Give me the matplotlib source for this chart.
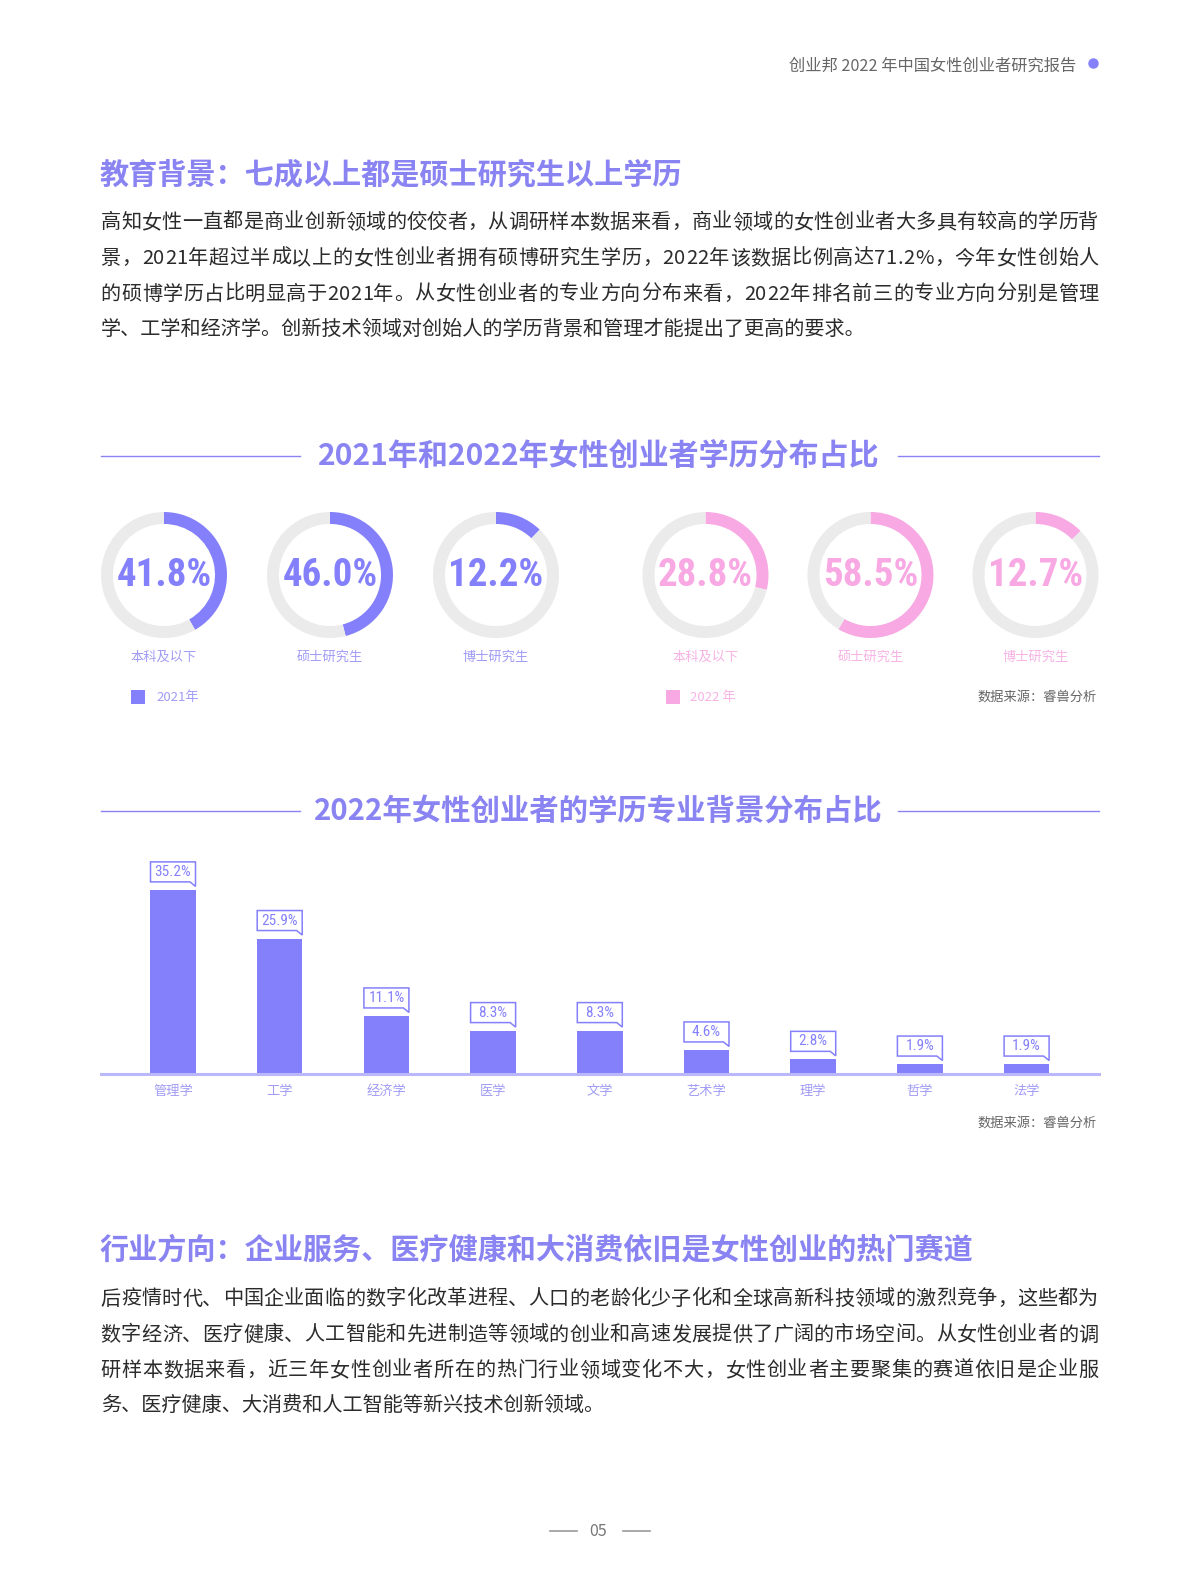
import matplotlib
matplotlib.use('Agg')
import matplotlib.pyplot as plt
import matplotlib.transforms as mtransforms
from matplotlib.patches import Polygon, Rectangle
from matplotlib.font_manager import FontProperties, fontManager

# ---------------- data ----------------
edu_levels = ['本科及以下', '硕士研究生', '博士研究生']
edu_2021 = [41.8, 46.0, 12.2]
edu_2022 = [28.8, 58.5, 12.7]
year_labels = ['2021年', '2022 年']

majors = ['管理学', '工学', '经济学', '医学', '文学', '艺术学', '理学', '哲学', '法学']
major_share = [35.2, 25.9, 11.1, 8.3, 8.3, 4.6, 2.8, 1.9, 1.9]

header_text = '创业邦 2022 年中国女性创业者研究报告'
heading1 = '教育背景：七成以上都是硕士研究生以上学历'
para1 = ['高知女性一直都是商业创新领域的佼佼者，从调研样本数据来看，商业领域的女性创业者大多具有较高的学历背',
         '景，2021年超过半成以上的女性创业者拥有硕博研究生学历，2022年该数据比例高达71.2%，今年女性创始人',
         '的硕博学历占比明显高于2021年。从女性创业者的专业方向分布来看，2022年排名前三的专业方向分别是管理',
         '学、工学和经济学。创新技术领域对创始人的学历背景和管理才能提出了更高的要求。']
title1 = '2021年和2022年女性创业者学历分布占比'
title2 = '2022年女性创业者的学历专业背景分布占比'
source_text = '数据来源：睿兽分析'
heading2 = '行业方向：企业服务、医疗健康和大消费依旧是女性创业的热门赛道'
para2 = ['后疫情时代、中国企业面临的数字化改革进程、人口的老龄化少子化和全球高新科技领域的激烈竞争，这些都为',
         '数字经济、医疗健康、人工智能和先进制造等领域的创业和高速发展提供了广阔的市场空间。从女性创业者的调',
         '研样本数据来看，近三年女性创业者所在的热门行业领域变化不大，女性创业者主要聚集的赛道依旧是企业服',
         '务、医疗健康、大消费和人工智能等新兴技术创新领域。']
page_no = '05'

# ---------------- style ----------------
PURPLE = '#8480fb'
PURPLE_TXT = '#8a84f3'
PURPLE_LIGHT = '#a19cf6'
PINK = '#f8a8e2'
PINK_LIGHT = '#f6b3e4'
RING_BG = '#ebebeb'
DARK = '#2b2b2b'
GRAY = '#666666'

CJK = ['Noto Sans CJK SC', 'DejaVu Sans']
plt.rcParams['font.family'] = CJK

names = {f.name for f in fontManager.ttflist}
narrow = None
for cand in ['Roboto Condensed', 'Liberation Sans Narrow', 'Arial Narrow', 'DejaVu Sans Condensed']:
    if cand in names:
        narrow = cand
        break
if narrow is not None:
    NARROW = dict(family=[narrow, 'DejaVu Sans'])
    pct_size, lab_size = 28, 11
else:
    NARROW = dict(family=['Roboto', 'DejaVu Sans'])
    pct_size, lab_size = 24, 10.5

W, H = 1200, 1578
fig = plt.figure(figsize=(W / 100, H / 100), dpi=100)
bg = fig.add_axes([0, 0, 1, 1])
bg.set_xlim(0, W)
bg.set_ylim(H, 0)
bg.axis('off')

renderer = fig.canvas.get_renderer()
BODY_W = 'medium'


def text_line(s, x0, x1, y, size, color, justify):
    if not justify:
        bg.text(x0, y, s, fontsize=size, color=color, ha='left', va='center', fontweight=BODY_W)
        return
    fp = FontProperties(family=CJK, size=size, weight=BODY_W)
    widths = [renderer.get_text_width_height_descent(ch, fp, ismath=False)[0] for ch in s]
    gap = (x1 - x0 - sum(widths)) / (len(s) - 1)
    x = x0
    for ch, w in zip(s, widths):
        bg.text(x, y, ch, fontsize=size, color=color, ha='left', va='center', fontweight=BODY_W)
        x += w + gap


# header
bg.text(1076, 66, header_text, fontsize=11.7, color=GRAY, ha='right', va='center', fontweight=BODY_W)
bg.plot([1093], [63], 'o', color=PURPLE, markersize=6.5)

# heading 1 + paragraph
bg.text(100, 174, heading1, fontsize=21, color=PURPLE_TXT, fontweight='bold', ha='left', va='center')
for i, (line, y) in enumerate(zip(para1, [222.5, 258.5, 294, 329.5])):
    text_line(line, 100.6, 1098.5, y, 14.5, DARK, i < len(para1) - 1)

# section titles
for ty, tt, fs in [(456, title1, 21.6), (811, title2, 21.2)]:
    bg.text(598.5, ty, tt, fontsize=fs, color=PURPLE_TXT, fontweight='bold', ha='center', va='center')
    bg.plot([100.6, 300], [ty, ty], color=PURPLE_TXT, lw=1)
    bg.plot([898, 1098.5], [ty, ty], color=PURPLE_TXT, lw=1)

# ---------------- donuts ----------------
R = 63
centers_x = [164, 330, 496, 705.5, 870.5, 1035.5]
cy = 575
groups = [(edu_2021, PURPLE, PURPLE_LIGHT), (edu_2022, PINK, PINK_LIGHT)]
k = 0
for vals, col, lcol in groups:
    for lvl, v in zip(edu_levels, vals):
        cx = centers_x[k]
        k += 1
        ax = fig.add_axes([(cx - R) / W, (H - cy - R) / H, 2 * R / W, 2 * R / H])
        ax.pie([v, 100 - v], colors=[col, RING_BG], startangle=90, counterclock=False,
               radius=1, wedgeprops=dict(width=0.19, edgecolor='none'))
        ax.set_xlim(-1, 1)
        ax.set_ylim(-1, 1)
        ax.axis('off')
        ax.text(0, -0.01, f'{v:.1f}%', color=col, fontsize=pct_size, fontweight='bold',
                ha='center', va='center', **NARROW)
        bg.text(cx, 657, lvl, fontsize=9.5, color=lcol, ha='center', va='center')

# legends
bg.add_patch(Rectangle((131, 690), 14, 14, color=PURPLE, lw=0))
bg.text(156, 697, year_labels[0], fontsize=9.5, color=PURPLE_LIGHT, ha='left', va='center')
bg.add_patch(Rectangle((666, 690), 14, 14, color=PINK, lw=0))
bg.text(690, 697, year_labels[1], fontsize=9.5, color=PINK_LIGHT, ha='left', va='center')
bg.text(1097, 697, source_text, fontsize=9.5, color=GRAY, ha='right', va='center')

# ---------------- bar chart ----------------
base_px, top_px = 1074, 850
left_px, right_px = 100.6, 1098.5
c0, step = 173, 106.7
px_per = 5.23
bax = fig.add_axes([left_px / W, (H - base_px) / H, (right_px - left_px) / W, (base_px - top_px) / H])
xs = list(range(len(majors)))
bax.bar(xs, major_share, width=0.426, color=PURPLE, edgecolor='none', zorder=2)
bax.set_xlim((left_px - c0) / step, (right_px - c0) / step)
bax.set_ylim(0, (base_px - top_px) / px_per)
for s in ['top', 'right', 'left']:
    bax.spines[s].set_visible(False)
bax.spines['bottom'].set_color('#bbb7fb')
bax.spines['bottom'].set_linewidth(2.2)
bax.spines['bottom'].set_zorder(3)
bax.set_yticks([])
bax.set_xticks(xs)
bax.set_xticklabels(majors, fontsize=9.5, color=PURPLE_LIGHT)
bax.tick_params(axis='x', length=0, pad=8)
bax.patch.set_alpha(0)

# callout labels
verts = [(-22.5, 8), (-22.5, 28), (22.5, 28), (22.5, 3.5), (17, 8)]
for x, v in zip(xs, major_share):
    tr = mtransforms.Affine2D() + mtransforms.ScaledTranslation(x, v, bax.transData)
    bax.add_patch(Polygon(verts, closed=True, facecolor='white', edgecolor=PURPLE,
                          lw=1.1, transform=tr, clip_on=False, zorder=4))
    bax.annotate(f'{v:.1f}%', xy=(x, v), xytext=(0, 18), textcoords='offset pixels',
                 ha='center', va='center', fontsize=lab_size, color=PURPLE, zorder=5,
                 annotation_clip=False, **NARROW)

bg.text(1097, 1123, source_text, fontsize=9.5, color=GRAY, ha='right', va='center')

# heading 2 + paragraph
bg.text(100, 1249.5, heading2, fontsize=21, color=PURPLE_TXT, fontweight='bold', ha='left', va='center')
for i, (line, y) in enumerate(zip(para2, [1299, 1335, 1370.5, 1405.5])):
    text_line(line, 100.6, 1098.5, y, 14.5, DARK, i < len(para2) - 1)

# footer
bg.text(598.5, 1531, page_no, fontsize=11.5, color='#777777', ha='center', va='center')
bg.plot([550, 577], [1531, 1531], color='#999999', lw=1.2)
bg.plot([622.5, 649.5], [1531, 1531], color='#999999', lw=1.2)

fig.savefig('out.png', dpi=100)
